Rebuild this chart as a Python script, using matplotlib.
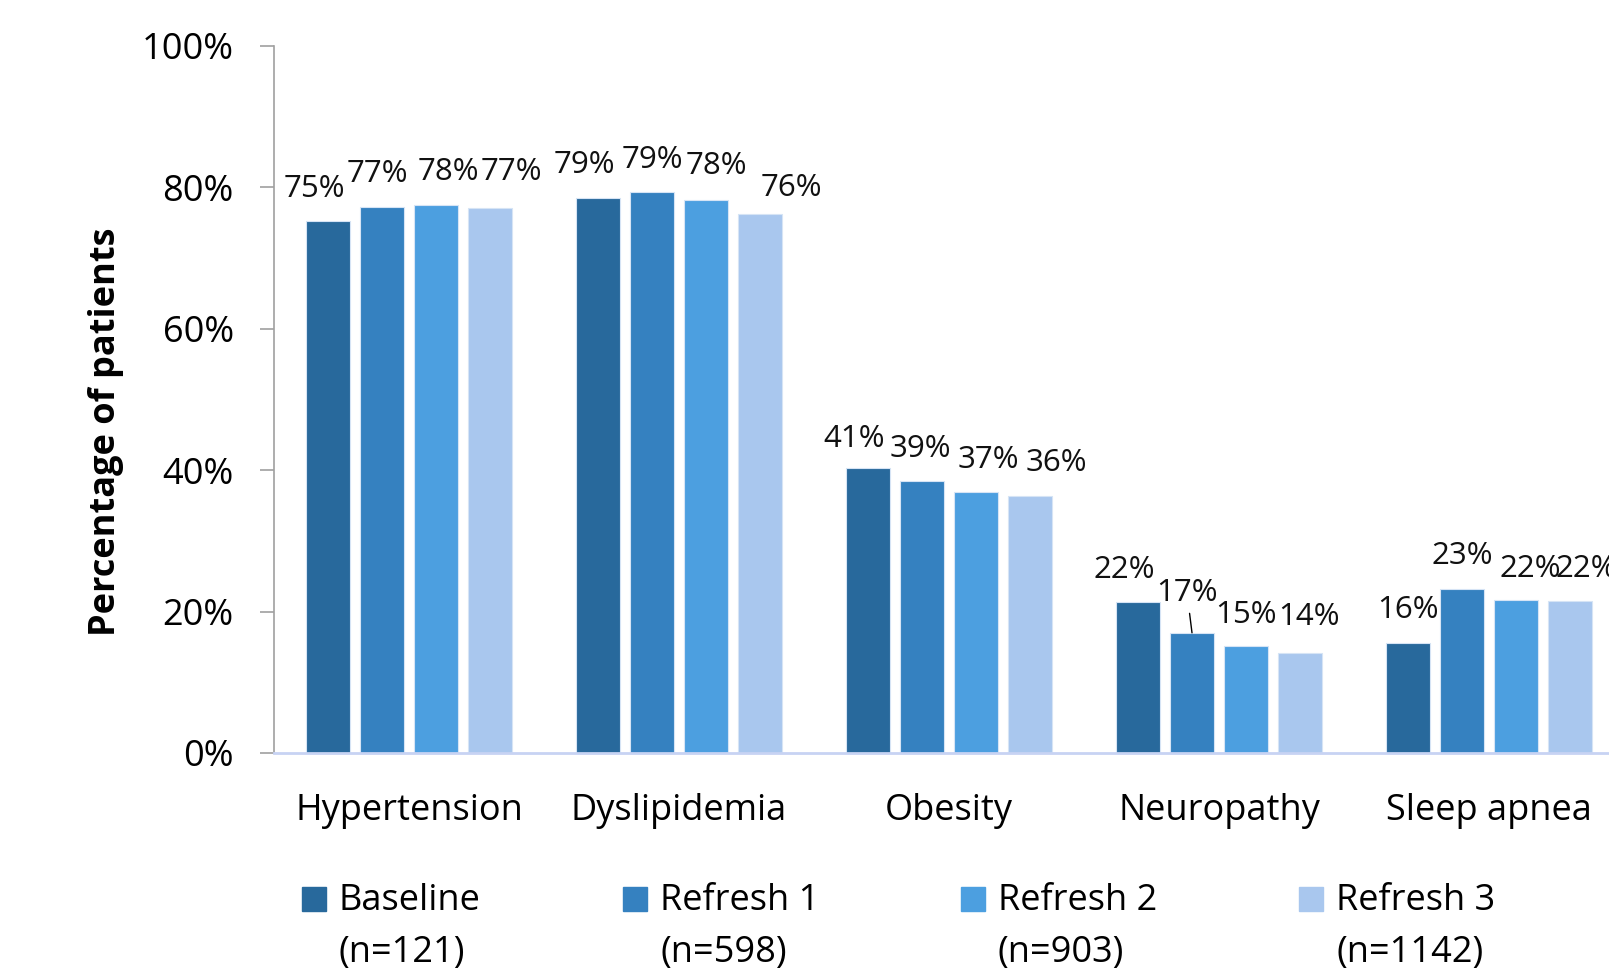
import matplotlib.pyplot as plt
from matplotlib.patches import Rectangle

categories = ["Hypertension", "Dyslipidemia", "Obesity", "Neuropathy", "Sleep apnea"]
series = ["Baseline", "Refresh 1", "Refresh 2", "Refresh 3"]
sample_sizes = ["(n=121)", "(n=598)", "(n=903)", "(n=1142)"]

baseline = [75.2, 78.5, 40.3, 21.3, 15.5]
refresh1 = [77.2, 79.4, 38.5, 17.0, 23.2]
refresh2 = [77.5, 78.2, 36.9, 15.1, 21.6]
refresh3 = [77.1, 76.2, 36.3, 14.2, 21.5]

labels_baseline = ["75%", "79%", "41%", "22%", "16%"]
labels_refresh1 = ["77%", "79%", "39%", "17%", "23%"]
labels_refresh2 = ["78%", "78%", "37%", "15%", "22%"]
labels_refresh3 = ["77%", "76%", "36%", "14%", "22%"]

yticks = [0, 20, 40, 60, 80, 100]
ytick_labels = ["0%", "20%", "40%", "60%", "80%", "100%"]

COLORS = ["#28699c", "#3581c0", "#4c9fe0", "#a9c7ee"]

# label nudges (pixels) to mimic the manually placed data labels
NUDGE = [
    [(-14, 32), (-14, 33), (-14, 29), (-14, 32), (0, 33)],
    [(-5, 33), (0, 32), (-2, 32), (-5, 40), (0, 33)],
    [(12, 33), (10, 34), (12, 32), (0, 31), (14, 31)],
    [(21, 36), (31, 26), (26, 33), (9, 36), (16, 32)],
]

plt.rcParams["font.family"] = "Open Sans"

fig = plt.figure(figsize=(16.09, 9.68), dpi=100)
ax = fig.add_axes([274 / 1609, 215 / 968, 1350 / 1609, 707 / 968])

values = [baseline, refresh1, refresh2, refresh3]
labels = [labels_baseline, labels_refresh1, labels_refresh2, labels_refresh3]
offsets = [-0.3, -0.1, 0.1, 0.3]
x = list(range(len(categories)))

for i in range(len(series)):
    xs = [xi + offsets[i] for xi in x]
    ax.bar(xs, values[i], width=0.16, color=COLORS[i], edgecolor="#d6e4f5",
           linewidth=0.8, zorder=2)
    for j in range(len(categories)):
        dx, dy = NUDGE[i][j]
        kw = {}
        if labels[i][j] == "17%":
            kw["arrowprops"] = dict(arrowstyle="-", color="black", lw=1,
                                    shrinkA=2, shrinkB=0)
        ax.annotate(labels[i][j], xy=(xs[j], values[i][j]), xytext=(dx, dy),
                    textcoords="offset pixels", ha="center", va="center",
                    fontsize=22.5, color="#111111", **kw)

ax.set_xlim(-0.5, 4.5)
ax.set_ylim(0, 100)
ax.set_yticks(yticks)
ax.set_yticklabels(ytick_labels, fontsize=26)
ax.set_xticks(x)
ax.set_xticklabels(categories, fontsize=26)
ax.tick_params(axis="x", length=0, pad=29)
ax.tick_params(axis="y", length=10, color="#a0a0a0", width=1.2, pad=19)

for s in ["top", "right"]:
    ax.spines[s].set_visible(False)
ax.spines["left"].set_color("#a0a0a0")
ax.spines["left"].set_linewidth(1.2)
ax.spines["bottom"].set_color("#c7d3f3")
ax.spines["bottom"].set_linewidth(2)

ax.set_ylabel("Percentage of patients", fontsize=26, fontweight="bold")
ax.yaxis.set_label_coords(-0.111, 0.454)

# legend drawn by hand: squares plus two-line labels
legend_x = [302, 623, 961, 1299]
for i in range(len(series)):
    x0 = legend_x[i]
    fig.add_artist(Rectangle((x0 / 1609, (968 - 911) / 968), 24 / 1609, 24 / 968,
                             transform=fig.transFigure, color=COLORS[i]))
    fig.text((x0 + 37) / 1609, (968 - 910) / 968, series[i], fontsize=26,
             va="baseline", ha="left")
    fig.text((x0 + 37) / 1609, (968 - 962) / 968, sample_sizes[i], fontsize=26,
             va="baseline", ha="left")

fig.savefig("out.png", dpi=100)
